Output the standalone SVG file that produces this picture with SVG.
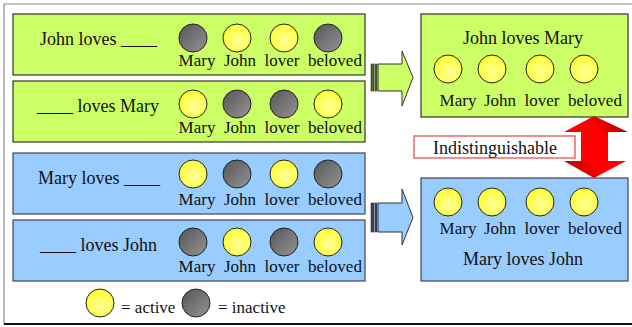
<svg xmlns="http://www.w3.org/2000/svg" width="632" height="327" viewBox="0 0 632 327">
<defs>
<radialGradient id="gy" cx="0.55" cy="0.6" r="0.6">
<stop offset="0" stop-color="#ffff99"/>
<stop offset="1" stop-color="#ffff33"/>
</radialGradient>
<linearGradient id="gg" x1="0" y1="0" x2="1" y2="1">
<stop offset="0" stop-color="#555555"/>
<stop offset="1" stop-color="#959595"/>
</linearGradient>
<linearGradient id="gr" x1="1" y1="0" x2="0" y2="1">
<stop offset="0" stop-color="#8b0000"/>
<stop offset="0.35" stop-color="#ff0000"/>
<stop offset="0.65" stop-color="#ff0000"/>
<stop offset="1" stop-color="#990000"/>
</linearGradient>
</defs>
<style>
text{font-family:"Liberation Serif","Times New Roman",serif;fill:#111}
.lbl{font-size:17px;text-anchor:middle}
.phr{font-size:18px}
.ttl{font-size:18px;text-anchor:middle}
.green{fill:#ccff66;stroke:#333;stroke-width:1.2}
.blue{fill:#99ccff;stroke:#445;stroke-width:1.2}
.on{fill:url(#gy);stroke:#222;stroke-width:1}
.off{fill:url(#gg);stroke:#222;stroke-width:1}
</style>
<rect width="632" height="327" fill="#fff"/>
<g id="frame">
<line x1="4" y1="4" x2="632" y2="4" stroke="#888" stroke-width="1.2"/>
<line x1="4" y1="4" x2="4" y2="324" stroke="#888" stroke-width="1.2"/>
<line x1="4" y1="324" x2="632" y2="324" stroke="#111" stroke-width="2"/>
</g>
<g id="box1">
<rect class="green" x="13" y="14" width="352" height="61"/>
<text class="phr" x="40" y="45">John loves ____</text>
<circle class="off" cx="193" cy="38" r="14"/>
<circle class="on" cx="237" cy="38" r="14"/>
<circle class="on" cx="284" cy="38" r="14"/>
<circle class="off" cx="328" cy="38" r="14"/>
<text class="lbl" x="197" y="66">Mary</text>
<text class="lbl" x="240" y="66">John</text>
<text class="lbl" x="282" y="66">lover</text>
<text class="lbl" x="335" y="66">beloved</text>
</g>
<g id="box2">
<rect class="green" x="13" y="81" width="352" height="61"/>
<text class="phr" x="37" y="112">____ loves Mary</text>
<circle class="on" cx="193" cy="104" r="14"/>
<circle class="off" cx="237" cy="104" r="14"/>
<circle class="off" cx="284" cy="104" r="14"/>
<circle class="on" cx="328" cy="104" r="14"/>
<text class="lbl" x="197" y="133">Mary</text>
<text class="lbl" x="240" y="133">John</text>
<text class="lbl" x="282" y="133">lover</text>
<text class="lbl" x="335" y="133">beloved</text>
</g>
<g id="box3">
<rect class="blue" x="13" y="153" width="352" height="61"/>
<text class="phr" x="38" y="184">Mary loves ____</text>
<circle class="on" cx="193" cy="174" r="14"/>
<circle class="off" cx="237" cy="174" r="14"/>
<circle class="on" cx="284" cy="174" r="14"/>
<circle class="off" cx="328" cy="174" r="14"/>
<text class="lbl" x="197" y="205">Mary</text>
<text class="lbl" x="240" y="205">John</text>
<text class="lbl" x="282" y="205">lover</text>
<text class="lbl" x="335" y="205">beloved</text>
</g>
<g id="box4">
<rect class="blue" x="13" y="220" width="352" height="61"/>
<text class="phr" x="40" y="251">____ loves John</text>
<circle class="off" cx="193" cy="242" r="14"/>
<circle class="on" cx="237" cy="242" r="14"/>
<circle class="off" cx="284" cy="242" r="14"/>
<circle class="on" cx="328" cy="242" r="14"/>
<text class="lbl" x="197" y="272">Mary</text>
<text class="lbl" x="240" y="272">John</text>
<text class="lbl" x="282" y="272">lover</text>
<text class="lbl" x="335" y="272">beloved</text>
</g>
<g id="result1">
<rect class="green" x="421" y="14" width="207" height="103"/>
<text class="ttl" x="523" y="44">John loves Mary</text>
<circle class="on" cx="448" cy="69" r="14"/>
<circle class="on" cx="492" cy="69" r="14"/>
<circle class="on" cx="540" cy="69" r="14"/>
<circle class="on" cx="584" cy="69" r="14"/>
<text class="lbl" x="458" y="106">Mary</text>
<text class="lbl" x="500" y="106">John</text>
<text class="lbl" x="542" y="106">lover</text>
<text class="lbl" x="595" y="106">beloved</text>
</g>
<g id="result2">
<rect class="blue" x="421" y="178" width="207" height="103"/>
<circle class="on" cx="448" cy="202" r="14"/>
<circle class="on" cx="492" cy="202" r="14"/>
<circle class="on" cx="540" cy="202" r="14"/>
<circle class="on" cx="584" cy="202" r="14"/>
<text class="lbl" x="458" y="234">Mary</text>
<text class="lbl" x="500" y="234">John</text>
<text class="lbl" x="542" y="234">lover</text>
<text class="lbl" x="595" y="234">beloved</text>
<text class="ttl" x="523" y="265">Mary loves John</text>
</g>
<g id="connectors">
<g id="arrow-green">
<rect x="371" y="64" width="3" height="27" fill="#4d661a" stroke="#333" stroke-width="0.6"/>
<rect x="375" y="64" width="2" height="27" fill="#4d661a" stroke="#333" stroke-width="0.6"/>
<path d="M378,64 H402 V51 L413,77.5 L402,106 V91 H378 Z" fill="#ccff66" stroke="#333" stroke-width="1"/>
</g>
<g id="arrow-blue">
<rect x="371" y="203" width="3" height="29" fill="#334466" stroke="#333" stroke-width="0.6"/>
<rect x="375" y="203" width="2" height="29" fill="#334466" stroke="#333" stroke-width="0.6"/>
<path d="M378,203 H402 V189 L413,217.5 L402,245 V232 H378 Z" fill="#99ccff" stroke="#333" stroke-width="1"/>
</g>
<g id="arrow-red">
<path d="M594,116 L628,132 H608 V161 H626 L594,178 L564,161 H581 V132 H564 Z" fill="url(#gr)"/>
</g>
</g>
<g id="label-indist">
<rect x="414" y="136" width="161" height="22" fill="#fff" stroke="#f06868" stroke-width="1.5"/>
<text class="ttl" x="495" y="154">Indistinguishable</text>
</g>
<g id="legend">
<circle class="on" cx="100" cy="303" r="14"/>
<text class="lbl" x="121" y="313" style="text-anchor:start">= active</text>
<circle class="off" cx="196" cy="303" r="14"/>
<text class="lbl" x="218" y="313" style="text-anchor:start">= inactive</text>
</g>
</svg>
